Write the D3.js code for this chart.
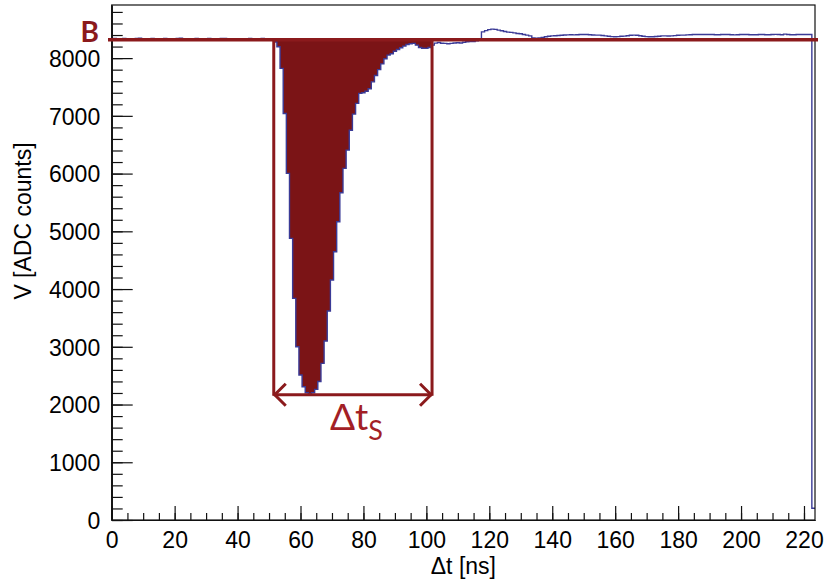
<!DOCTYPE html>
<html><head><meta charset="utf-8">
<script src="https://cdn.jsdelivr.net/npm/d3@7"></script>
<style>body{margin:0;background:#fff}</style>
</head><body><svg id="c" width="825" height="584"></svg>
<script>
// ---- data ----
const binWidth = 1; // ns, bins centred on integer times
const adcValues = [
 8335,8340,8330,8338,8342,8335,8328,8333,8340,8345,
 8338,8330,8335,8342,8337,8331,8336,8340,8334,8329,
 8333,8339,8343,8336,8330,8334,8338,8341,8335,8332,
 8336,8340,8333,8328,8335,8339,8342,8337,8331,8334,
 8338,8336,8330,8333,8340,8337,8332,8335,8339,8334,
 8330,8325,
 8280,8196,7822,7042,6003,4878,3839,3001,2511,2308,
 2204,2185,2204,2263,2398,2713,3100,3619,4156,4646,
 5165,5667,6090,6407,6750,7030,7216,7389,7400,7425,
 7470,7589,7700,7800,7900,7990,8052,8075,8120,8150,
 8180,8208,8237,8250,8255,8225,8185,8172,8168,8185,
 8225,8260,
 8270,8258,8255,8250,8255,8262,8265,8262,8275,8283,8285,8288,8298,8312,
 8455,8476,8494,8502,8497,8485,8473,8462,8450,8445,8438,8427,8421,8410,8398,8386,8350,8345,8350,8360,
 8369,8380,8386,8388,8392,8395,8400,8403,8405,8402,
 8406,8410,8408,8410,8405,8400,8398,8398,8392,8385,
 8378,8372,8369,8372,8378,8381,8388,8395,8398,8396,
 8388,8380,8372,8369,8369,8375,8380,8386,8386,8383,
 8386,8390,8395,8398,8398,8402,8405,8408,8410,8410,
 8410,8408,8410,8408,8406,8405,8408,8410,8410,8405,
 8403,8405,8408,8410,8410,8406,8404,8405,8410,8408,
 8405,8406,8408,8412,8408,8405,8416,8408,8405,8406,
 8410,8410,8408,8410,8410,
 203
];
const baselineB = 8320;           // B level
const windowStart = 51.5;         // ns
const windowEnd = 101.8;          // ns
const arrowLevel = 2170;          // ADC counts
const xTickLabels = [0,20,40,60,80,100,120,140,160,180,200,220];
const yTickLabels = [0,1000,2000,3000,4000,5000,6000,7000,8000];
const xDomain = [0, 223.5];
const yDomain = [0, 8920];

// ---- layout ----
const svg = d3.select("#c");
const L = 111.7, R = 815, T = 5, Bt = 520;
const x = d3.scaleLinear().domain(xDomain).range([L, R]);
const y = d3.scaleLinear().domain(yDomain).range([Bt, T]);

const axisFont = "'Liberation Sans', Arial, sans-serif";
const blue = "#3a3a96", fillRed = "#7b1416", lineRed = "#8b1a1c", textRed = "#a31f26";

// histogram step points
const pts = adcValues.map((v, i) => [Math.max(xDomain[0], i*binWidth - binWidth/2), v]);
pts.push([Math.min(xDomain[1], (adcValues.length-1)*binWidth + binWidth/2), adcValues[adcValues.length-1]]);

// clip for the shaded window
svg.append("defs").append("clipPath").attr("id","win")
  .append("rect").attr("x", x(windowStart)).attr("y", 0)
  .attr("width", x(windowEnd) - x(windowStart)).attr("height", 584);

// fill between waveform and B
const area = d3.area().curve(d3.curveStepAfter)
  .x(d => x(d[0])).y0(y(baselineB)).y1(d => y(Math.min(d[1], baselineB)));
svg.append("path").datum(pts).attr("d", area).attr("fill", fillRed).attr("clip-path","url(#win)");

// waveform line
const line = d3.line().curve(d3.curveStepAfter).x(d => x(d[0])).y(d => y(d[1]));
svg.append("path").datum(pts).attr("d", line).attr("fill","none")
  .attr("stroke", blue).attr("stroke-width", 1.4);

// frame
svg.append("rect").attr("x", L).attr("y", T).attr("width", R-L).attr("height", Bt-T)
  .attr("fill","none").attr("stroke","#111").attr("stroke-width",1.2);

// x axis
const xMinor = d3.range(0, 224, 5);
const gxm = svg.append("g").attr("transform",`translate(0,${Bt})`)
  .call(d3.axisBottom(x).tickValues(xMinor).tickSizeInner(-7).tickSizeOuter(0).tickFormat(""));
const gx = svg.append("g").attr("transform",`translate(0,${Bt})`)
  .call(d3.axisBottom(x).tickValues(xTickLabels).tickSizeInner(-14).tickSizeOuter(0).tickPadding(12).tickFormat(d3.format("d")));
// y axis
const yMinor = d3.range(0, 8901, 200);
const gym = svg.append("g").attr("transform",`translate(${L},0)`)
  .call(d3.axisLeft(y).tickValues(yMinor).tickSizeInner(-11).tickSizeOuter(0).tickFormat(""));
const gy = svg.append("g").attr("transform",`translate(${L},0)`)
  .call(d3.axisLeft(y).tickValues(yTickLabels).tickSizeInner(-21).tickSizeOuter(0).tickPadding(11.5).tickFormat(d3.format("d")));
[gxm,gx,gym,gy].forEach(g => {
  g.select(".domain").attr("stroke","#111").attr("stroke-width",1.2);
  g.selectAll(".tick line").attr("stroke","#111").attr("stroke-width",1.2);
  g.selectAll("text").attr("font-family", axisFont).attr("font-size", 23).attr("fill","#000");
});
gx.selectAll("text").attr("dy","0.71em");
gy.selectAll("text").attr("dy","0.36em");

// axis titles
svg.append("text").attr("x", (L+R)/2).attr("y", 574).attr("text-anchor","middle")
  .attr("font-family", axisFont).attr("font-size", 23).text("\u0394t [ns]");
svg.append("text").attr("transform","translate(31,221) rotate(-90)").attr("text-anchor","middle")
  .attr("font-family", axisFont).attr("font-size", 23).text("V [ADC counts]");

// B line
svg.append("line").attr("x1",108).attr("x2",818).attr("y1",y(baselineB)).attr("y2",y(baselineB))
  .attr("stroke", lineRed).attr("stroke-width",3.5);
svg.append("text").attr("x",99).attr("y",42).attr("text-anchor","end")
  .attr("font-family","Lato, 'Open Sans', sans-serif").attr("font-weight","bold")
  .attr("font-size",28).attr("fill", lineRed).text("B");

// window verticals
const ya = y(arrowLevel);
[windowStart, windowEnd].forEach(t => {
  svg.append("line").attr("x1",x(t)).attr("x2",x(t)).attr("y1",y(baselineB)).attr("y2",ya+1)
    .attr("stroke", lineRed).attr("stroke-width",3);
});
// arrow
svg.append("line").attr("x1",x(windowStart)).attr("x2",x(windowEnd)).attr("y1",ya).attr("y2",ya)
  .attr("stroke", lineRed).attr("stroke-width",3);
const xa = x(windowStart), xb = x(windowEnd);
svg.append("path").attr("d",`M${xa+12},${ya-11} L${xa+1},${ya} L${xa+12},${ya+11}`)
  .attr("fill","none").attr("stroke",lineRed).attr("stroke-width",3);
svg.append("path").attr("d",`M${xb-12},${ya-11} L${xb-1},${ya} L${xb-12},${ya+11}`)
  .attr("fill","none").attr("stroke",lineRed).attr("stroke-width",3);

// Δt_S label
const lab = svg.append("text").attr("x", 330).attr("y", 430)
  .attr("font-family","Lato, 'Open Sans', sans-serif").attr("font-size",37).attr("fill", textRed);
lab.append("tspan").text("\u0394t");
lab.append("tspan").attr("font-size",27).attr("dy",10).text("S");
</script>
</body></html>
